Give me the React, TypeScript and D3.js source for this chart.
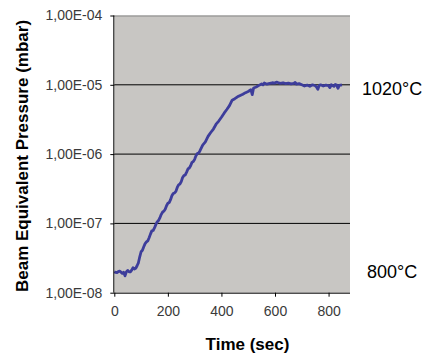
import React, { useEffect, useRef, FC } from "react";
import * as d3 from "d3";

// time (sec)
const times: number[] = [
  0, 5, 10, 15, 20, 25, 30, 35, 40, 45, 50, 55, 60, 65, 70, 75, 80, 85, 90, 95, 100, 105, 110,
  115, 120, 125, 130, 135, 140, 145, 150, 155, 160, 165, 170, 175, 180, 185, 190, 195, 200, 205,
  210, 215, 220, 225, 230, 235, 240, 245, 250, 255, 260, 265, 270, 275, 280, 285, 290, 295, 300,
  305, 310, 315, 320, 330, 340, 350, 360, 370, 380, 390, 400, 410, 420, 430, 440, 450, 460, 470,
  480, 490, 500, 510, 515, 520, 530, 540, 550, 555, 560, 570, 580, 590, 600, 605, 610, 620, 630,
  640, 650, 660, 670, 675, 680, 690, 700, 710, 720, 730, 740, 750, 755, 760, 765, 770, 780, 790,
  800, 805, 810, 820, 825, 830, 835, 840, 850,
];

// beam equivalent pressure (mbar)
const pressures: number[] = [
  2.0e-8, 1.96e-8, 1.95e-8, 2.02e-8, 2.05e-8, 1.98e-8, 1.9e-8, 1.97e-8, 1.75e-8, 2.0e-8, 2.1e-8,
  2.0e-8, 2.0e-8, 2.12e-8, 2.3e-8, 2.2e-8, 2.25e-8, 2.45e-8, 2.7e-8, 3.3e-8, 3.9e-8, 4.1e-8,
  4.6e-8, 5.1e-8, 5.4e-8, 5.6e-8, 6.2e-8, 7.0e-8, 7.8e-8, 7.9e-8, 8.6e-8, 9.6e-8, 1.05e-7, 1.1e-7,
  1.2e-7, 1.34e-7, 1.45e-7, 1.5e-7, 1.6e-7, 1.8e-7, 1.95e-7, 2.0e-7, 2.2e-7, 2.5e-7, 2.7e-7,
  2.75e-7, 2.9e-7, 3.3e-7, 3.6e-7, 3.7e-7, 4.0e-7, 4.6e-7, 4.9e-7, 5.0e-7, 5.5e-7, 6.1e-7, 6.3e-7,
  6.8e-7, 7.6e-7, 7.8e-7, 8.4e-7, 9.5e-7, 1.02e-6, 1.04e-6, 1.12e-6, 1.35e-6, 1.5e-6, 1.8e-6,
  2.05e-6, 2.3e-6, 2.7e-6, 3.0e-6, 3.4e-6, 3.9e-6, 4.4e-6, 5.0e-6, 6.0e-6, 6.3e-6, 6.7e-6, 7.0e-6,
  7.3e-6, 7.7e-6, 8.0e-6, 8.5e-6, 7.2e-6, 9.0e-6, 9.3e-6, 9.8e-6, 1.03e-5, 1.0e-5, 1.06e-5,
  1.02e-5, 1.05e-5, 1.07e-5, 1.06e-5, 1.09e-5, 1.08e-5, 1.05e-5, 1.07e-5, 1.04e-5, 1.06e-5,
  1.03e-5, 1.05e-5, 1.08e-5, 1.02e-5, 1.04e-5, 1.0e-5, 9.6e-6, 9.9e-6, 9.5e-6, 1.0e-5, 9.7e-6,
  9.3e-6, 8.6e-6, 9.8e-6, 1.0e-5, 9.6e-6, 9.9e-6, 9.7e-6, 9.1e-6, 1.0e-5, 9.5e-6, 1.01e-5, 9.9e-6,
  8.9e-6, 9.8e-6, 1.0e-5,
];

const xTicks: number[] = [0, 200, 400, 600, 800];
const yTicks: number[] = [1e-8, 1e-7, 1e-6, 1e-5, 1e-4];
const yTickLabels: string[] = ["1,00E-08", "1,00E-07", "1,00E-06", "1,00E-05", "1,00E-04"];

// temperature notes on the right
const tempLabels: string[] = ["1020°C", "800°C"];
const tempLevels: number[] = [1.0e-5, 2.0e-8];

const W = 427;
const H = 354;
const margin = { left: 114.3, right: 77, top: 15.5, bottom: 61.3 };

const App: FC = () => {
  const svgRef = useRef<SVGSVGElement>(null);

  useEffect(() => {
    const svg = d3.select(svgRef.current);
    svg.html("");

    const x = d3.scaleLinear().domain([0, 880]).range([margin.left, W - margin.right]);
    const y = d3.scaleLog().domain([1e-8, 1e-4]).range([H - margin.bottom, margin.top]);

    // plot area
    svg
      .append("rect")
      .attr("x", margin.left)
      .attr("y", margin.top)
      .attr("width", W - margin.right - margin.left)
      .attr("height", H - margin.bottom - margin.top)
      .attr("fill", "#c8c6c3");

    // gridlines
    svg
      .append("g")
      .selectAll("line")
      .data(yTicks.slice(1, 4))
      .join("line")
      .attr("x1", margin.left)
      .attr("x2", W - margin.right)
      .attr("y1", (d) => y(d))
      .attr("y2", (d) => y(d))
      .attr("stroke", "#000")
      .attr("stroke-width", 1);

    // top border
    svg
      .append("line")
      .attr("x1", margin.left)
      .attr("x2", W - margin.right)
      .attr("y1", y(1e-4) + 0.5)
      .attr("y2", y(1e-4) + 0.5)
      .attr("stroke", "#858585")
      .attr("stroke-width", 1.2);

    // line
    const pts: [number, number][] = times.map((t, i) => [t, pressures[i]]);
    const line = d3
      .line<[number, number]>()
      .x((d) => x(d[0]))
      .y((d) => y(d[1]));
    svg
      .append("path")
      .datum(pts)
      .attr("d", line)
      .attr("fill", "none")
      .attr("stroke", "#3d3d9b")
      .attr("stroke-width", 2.8)
      .attr("stroke-linejoin", "round");

    // axes
    const yAxis = svg.append("g").attr("transform", `translate(${margin.left},0)`);
    yAxis.call(
      d3
        .axisLeft(y)
        .tickValues(yTicks)
        .tickSize(4)
        .tickPadding(8)
        .tickFormat((d, i) => yTickLabels[i])
    );
    yAxis.select(".domain").attr("stroke", "#000").attr("d", `M-0.5,${y(1e-4)}V${y(1e-8)}`);
    yAxis
      .selectAll("text")
      .attr("font-family", "Liberation Sans, Arial, sans-serif")
      .attr("font-size", 14)
      .attr("fill", "#3a3a3a");

    const xAxis = svg.append("g").attr("transform", `translate(0,${H - margin.bottom})`);
    xAxis.call(d3.axisBottom(x).tickValues(xTicks).tickSize(4).tickPadding(9).tickFormat(d3.format("d")));
    xAxis.select(".domain").attr("stroke", "#000").attr("d", `M${margin.left},0.5H${W - margin.right}`);
    xAxis
      .selectAll("text")
      .attr("font-family", "Liberation Sans, Arial, sans-serif")
      .attr("font-size", 14)
      .attr("fill", "#3a3a3a");

    // axis titles
    svg
      .append("text")
      .attr("x", 247.5)
      .attr("y", 350)
      .attr("text-anchor", "middle")
      .attr("font-family", "Liberation Sans, Arial, sans-serif")
      .attr("font-weight", "bold")
      .attr("font-size", 17)
      .attr("fill", "#000")
      .text("Time (sec)");

    svg
      .append("text")
      .attr("transform", "translate(28,156) rotate(-90)")
      .attr("text-anchor", "middle")
      .attr("font-family", "Liberation Sans, Arial, sans-serif")
      .attr("font-weight", "bold")
      .attr("font-size", 17)
      .attr("fill", "#000")
      .text("Beam Equivalent Pressure (mbar)");

    // temperature labels
    svg
      .append("g")
      .selectAll("text")
      .data(tempLabels)
      .join("text")
      .attr("x", (d, i) => (i === 0 ? 362 : 367))
      .attr("y", (d, i) => y(tempLevels[i]) + (i === 0 ? 10 : 6.5))
      .attr("font-family", "Liberation Sans, Arial, sans-serif")
      .attr("font-size", 18)
      .attr("fill", "#000")
      .text((d) => d);
  }, []);

  return (
    <svg
      ref={svgRef}
      width={W}
      height={H}
      viewBox={`0 0 ${W} ${H}`}
      style={{ position: "absolute", left: 0, top: 0, background: "#fff" }}
    ></svg>
  );
};

export default App;
